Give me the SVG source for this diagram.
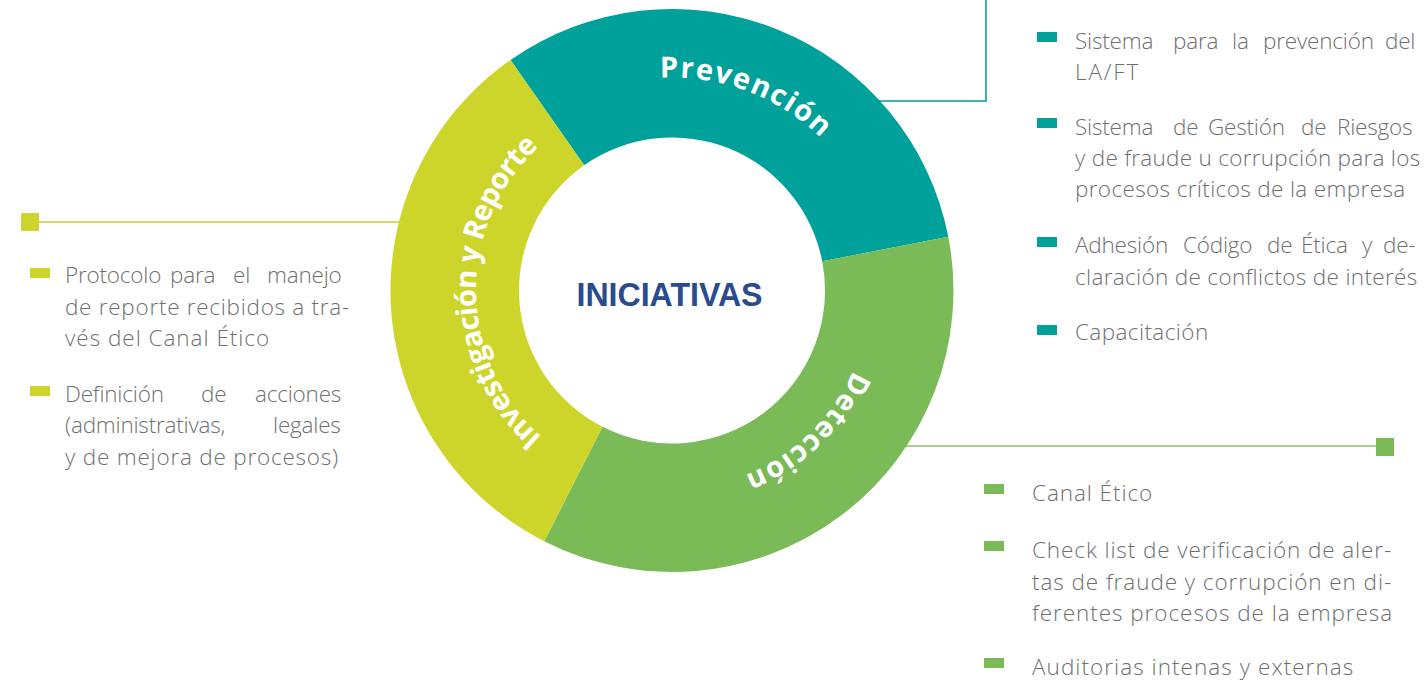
<svg xmlns="http://www.w3.org/2000/svg" width="1427" height="681" viewBox="0 0 1427 681">
<style>
.body{font-family:"Open Sans","Liberation Sans",sans-serif;font-weight:300;font-size:22.5px;letter-spacing:-0.2px;fill:#6f6f6f}
.ring{font-family:"Open Sans","Liberation Sans",sans-serif;font-weight:700;font-size:29px;fill:#ffffff}
.center{font-family:"Liberation Sans",Arial,sans-serif;font-weight:700;font-size:33px;fill:#2a4c8f}
.teal{fill:#00a19a}
.lime{fill:#cdd52a}
.green{fill:#7aba57}
</style>
<defs>
<path id="pPrev" d="M660.1,77.8 A213,213 0 0 1 856.5,184"/>
<path id="pDet" d="M853.2,370.4 A199,199 0 0 1 672,489.5"/>
<path id="pInv" d="M541.9,437.1 A196,196 0 0 1 574,120.8"/>
</defs>
<g id="connectors" fill="none" stroke-width="2">
<polyline points="860,101 986,101 986,0" stroke="#40b5b0"/>
<line x1="39" y1="222" x2="420" y2="222" stroke="#d6dc5a"/>
<line x1="890" y1="446" x2="1376" y2="446" stroke="#a6d18f"/>
<rect x="21" y="213" width="18" height="18" class="lime" stroke="none"/>
<rect x="1376" y="438" width="18" height="18" class="green" stroke="none"/>
</g>
<g id="node-prevencion">
<path class="teal" d="M510.5,59.9 A281.5,281.5 0 0 1 948.3,236.8 L822.2,261.3 A153,153 0 0 0 584.2,165.2 Z"/>
<text class="ring" letter-spacing="1.6"><textPath href="#pPrev">Prevención</textPath></text>
</g>
<g id="node-deteccion">
<path class="green" d="M948.3,236.8 A281.5,281.5 0 0 1 544.2,541.3 L602.5,426.8 A153,153 0 0 0 822.2,261.3 Z"/>
<text class="ring" letter-spacing="1.3"><textPath href="#pDet">Detección</textPath></text>
</g>
<g id="node-investigacion">
<path class="lime" d="M544.2,541.3 A281.5,281.5 0 0 1 510.5,59.9 L584.2,165.2 A153,153 0 0 0 602.5,426.8 Z"/>
<text class="ring" font-size="27" letter-spacing="-0.6"><textPath href="#pInv">Investigación y Reporte</textPath></text>
</g>
<g id="node-center">
<text class="center" x="576.5" y="306" textLength="186" lengthAdjust="spacingAndGlyphs">INICIATIVAS</text>
</g>
<g id="list-prevencion">
<rect class="teal" x="1037" y="32" width="20" height="10"/>
<rect class="teal" x="1037" y="118" width="20" height="10"/>
<rect class="teal" x="1037" y="237" width="20" height="10"/>
<rect class="teal" x="1037" y="325" width="20" height="10"/>
<text class="body" y="48.5"><tspan x="1075">Sistema</tspan><tspan x="1173">para</tspan><tspan x="1232">la</tspan><tspan x="1263">prevención</tspan><tspan x="1385">del</tspan></text>
<text class="body" x="1075" y="80" textLength="63">LA/FT</text>
<text class="body" y="135"><tspan x="1075">Sistema</tspan><tspan x="1173">de</tspan><tspan x="1208">Gestión</tspan><tspan x="1301">de</tspan><tspan x="1337">Riesgos</tspan></text>
<text class="body" x="1075" y="166" textLength="345">y de fraude u corrupción para los</text>
<text class="body" x="1075" y="197" textLength="330">procesos críticos de la empresa</text>
<text class="body" y="253"><tspan x="1075">Adhesión</tspan><tspan x="1183">Código</tspan><tspan x="1267">de</tspan><tspan x="1301">Ética</tspan><tspan x="1362">y</tspan><tspan x="1383">de-</tspan></text>
<text class="body" x="1075" y="284.5" textLength="342">claración de conflictos de interés</text>
<text class="body" x="1075" y="340" textLength="133">Capacitación</text>
</g>
<g id="list-investigacion">
<rect class="lime" x="30" y="268" width="20" height="10"/>
<rect class="lime" x="30" y="386" width="20" height="10"/>
<text class="body" y="283"><tspan x="65">Protocolo</tspan><tspan x="170">para</tspan><tspan x="233">el</tspan><tspan x="267">manejo</tspan></text>
<text class="body" x="65" y="314.5" textLength="284">de reporte recibidos a tra-</text>
<text class="body" x="65" y="346" textLength="204">vés del Canal Ético</text>
<text class="body" y="401.5"><tspan x="65">Definición</tspan><tspan x="201">de</tspan><tspan x="255">acciones</tspan></text>
<text class="body" y="433"><tspan x="65">(administrativas,</tspan><tspan x="273">legales</tspan></text>
<text class="body" x="65" y="464.5" textLength="273">y de mejora de procesos)</text>
</g>
<g id="list-deteccion">
<rect class="green" x="984" y="484" width="20" height="10"/>
<rect class="green" x="984" y="541" width="20" height="10"/>
<rect class="green" x="984" y="658" width="20" height="10"/>
<text class="body" x="1032" y="501" textLength="120">Canal Ético</text>
<text class="body" x="1032" y="558" textLength="359">Check list de verificación de aler-</text>
<text class="body" x="1032" y="589.5" textLength="359">tas de fraude y corrupción en di-</text>
<text class="body" x="1032" y="621" textLength="360">ferentes procesos de la empresa</text>
<text class="body" x="1032" y="675" textLength="321">Auditorias intenas y externas</text>
</g>
</svg>
